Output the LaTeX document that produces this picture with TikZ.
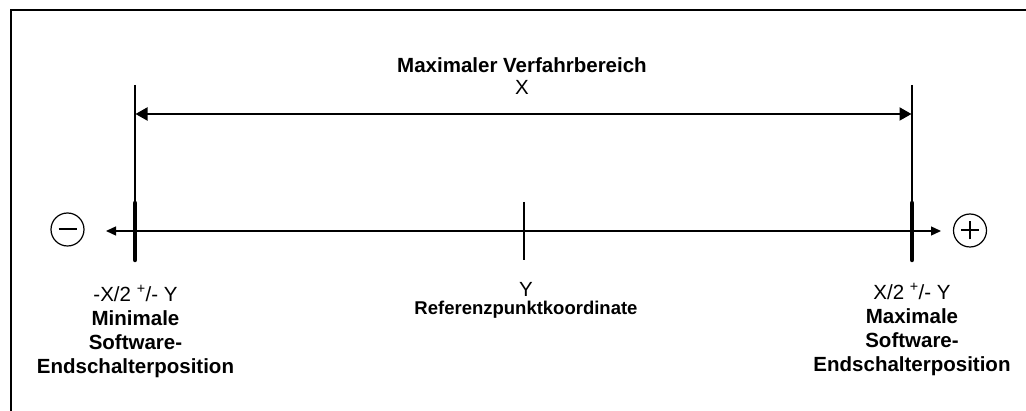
\documentclass[tikz,border=0pt]{standalone}
\usepackage{fontspec}
\setmainfont{Liberation Sans}
\usetikzlibrary{arrows.meta}
\begin{document}
\begin{tikzpicture}[x=1pt,y=-1pt,
  lbl/.style={align=center, font=\fontsize{20.5}{24}\selectfont, inner sep=0pt, anchor=north},
  signcirc/.style={draw, circle, line width=1.2pt, minimum size=33pt, inner sep=0pt},
  signbar/.style={line width=2pt},
  thin/.style={line width=1.3pt},
  endtick/.style={line width=4.5pt, line cap=round},
  axis/.style={line width=1.3pt, -{Triangle[length=10pt,width=9pt]}},
  dim/.style={line width=2pt, {Triangle[length=12pt,width=13pt]}-{Triangle[length=12pt,width=13pt]}}]
\useasboundingbox (0,0) rectangle (1026,411);
% frame
\draw[line width=2pt] (11,412) -- (11,10) -- (1027,10);

% sign circles
\node[signcirc] (minus) at (67.5,229.5) {};
\node[signcirc] (plus) at (970,230.5) {};
\draw[signbar] ([xshift=-9pt]minus.center) -- ([xshift=9pt]minus.center);
\draw[signbar] ([xshift=-9pt]plus.center) -- ([xshift=9pt]plus.center);
\draw[signbar] ([yshift=-9pt]plus.center) -- ([yshift=9pt]plus.center);

% axis
\coordinate (axM) at (524,231);
\coordinate (axL) at (106,231);
\coordinate (axR) at (941,231);
\draw[axis] (axM) -- (axL);
\draw[axis] (axM) -- (axR);

% ticks
\coordinate (tLt) at (135,203);
\coordinate (tLb) at (135,260);
\coordinate (tRt) at (912,203);
\coordinate (tRb) at (912,260);
\coordinate (tMt) at (524,202);
\coordinate (tMb) at (524,260);
\draw[endtick] (tLt) -- (tLb);
\draw[endtick] (tRt) -- (tRb);
\draw[thin] (tMt) -- (tMb);

% extension lines
\coordinate (eL) at (135,85);
\coordinate (eR) at (912,85);
\draw[thin] (eL) -- (tLt);
\draw[thin] (eR) -- (tRt);

% dimension arrow
\coordinate (dL) at (135.5,114);
\coordinate (dR) at (911.5,114);
\draw[dim] (dL) -- (dR);

% labels
\node[lbl] (title) at (522,57.5) {\textbf{Maximaler Verfahrbereich}\\[-2pt]X};
\node[lbl] (left) at (135.5,285.5) {-X/2 \textsuperscript{+}/- Y\\\textbf{Minimale}\\\textbf{Software-}\\\textbf{Endschalterposition}};
\node[lbl] (right) at (912,283.5) {X/2 \textsuperscript{+}/- Y\\\textbf{Maximale}\\\textbf{Software-}\\\textbf{Endschalterposition}};
\node[lbl] (center) at (526,282) {Y\\[-6pt]{\fontsize{18.5}{22}\selectfont\textbf{Referenzpunktkoordinate}}};
\end{tikzpicture}
\end{document}
